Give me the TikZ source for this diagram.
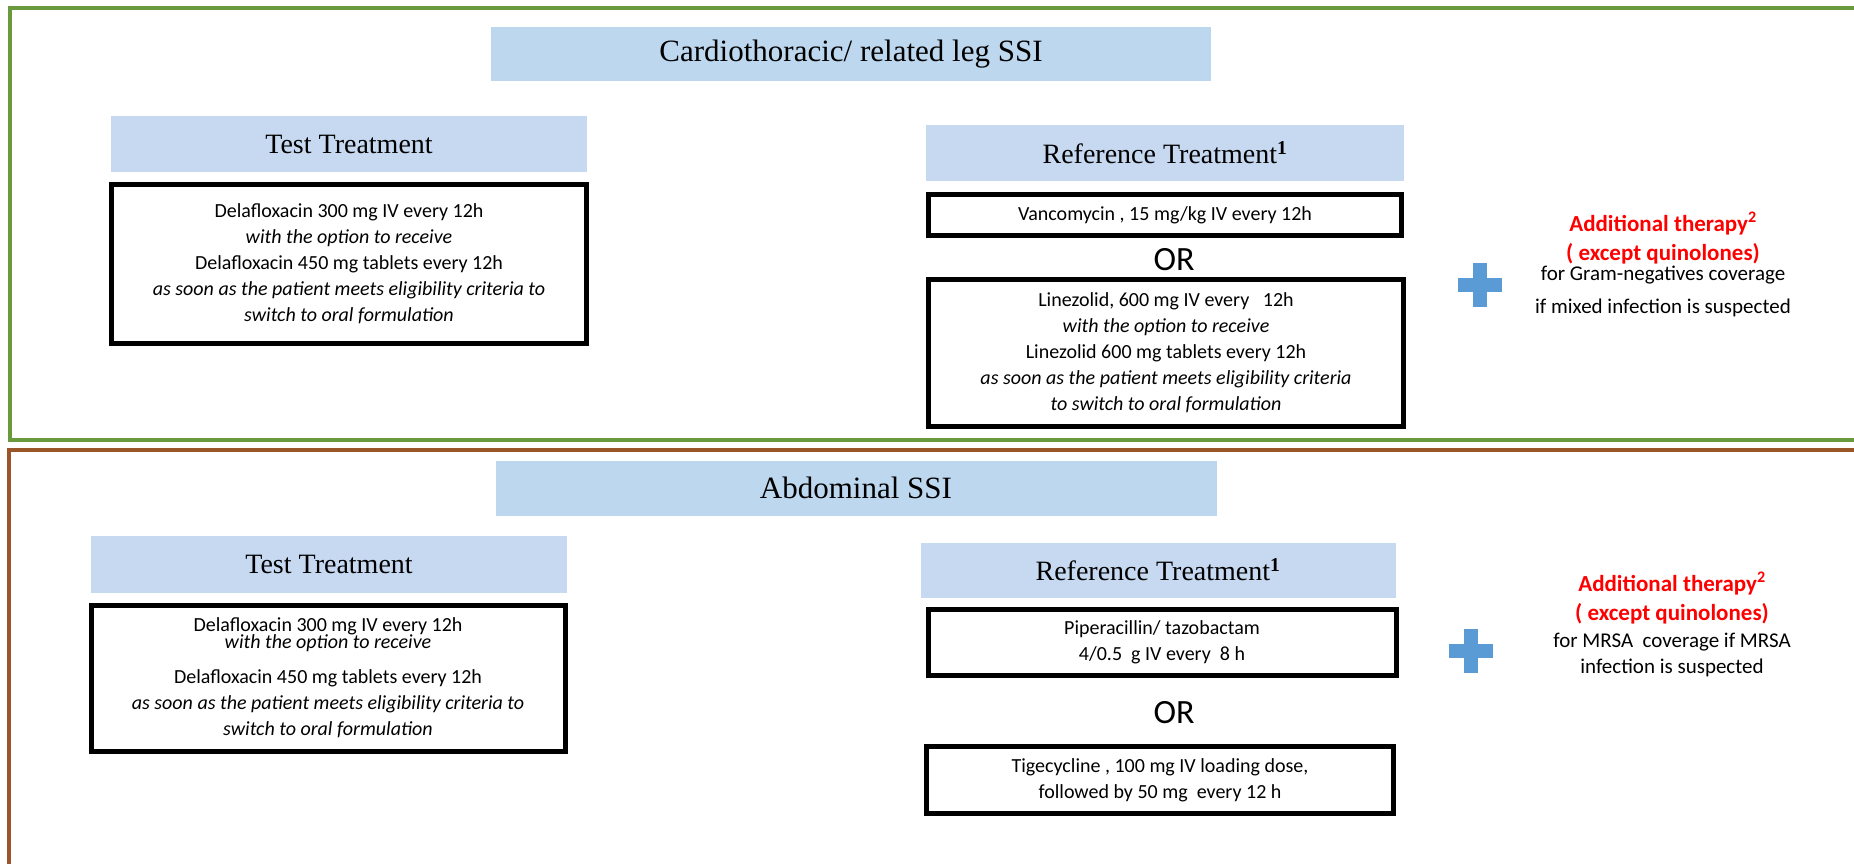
\documentclass[tikz,border=0pt]{standalone}
\usepackage{fontspec}
\setmainfont{Carlito}
\newfontfamily\headfont{Liberation Serif}

\definecolor{framegreen}{HTML}{6B9A3E}
\definecolor{framebrown}{HTML}{9A5529}
\definecolor{headblue}{HTML}{C6D9F1}
\definecolor{titleblue}{HTML}{BDD7EE}
\definecolor{plusblue}{HTML}{5B9BD5}
\definecolor{addred}{HTML}{FF0000}

\tikzset{
    titlebox/.style = {fill=titleblue, minimum width=720pt, minimum height=54pt, font=\headfont\fontsize{31}{34}\selectfont},
    headbox/.style = {fill=headblue, minimum width=476pt, minimum height=56pt, font=\headfont\fontsize{28}{32}\selectfont},
    drugbox/.style = {draw, line width=5pt, align=center, font=\fontsize{20}{26}\selectfont},
    ortext/.style = {font=\fontsize{34}{40}\selectfont},
    addred/.style = {text=addred, align=center, font=\bfseries\fontsize{23}{29}\selectfont},
    addblack/.style = {align=center, font=\fontsize{21}{33}\selectfont},
}

\begin{document}
\begin{tikzpicture}[x=1pt, y=-1pt]
    \useasboundingbox (0, 0) rectangle (1854, 863);
    \clip (0, 0) rectangle (1854, 863);

    % frames of the two sections
    \draw[framegreen, line width=4pt] (10, 8) rectangle (1880, 440);
    \draw[framebrown, line width=4pt] (9, 900) |- (1880, 450);

    % cardiothoracic section
    \node[titlebox] (titleA) at (851, 54) {Cardiothoracic/ related leg SSI};

    \node[headbox] (testheadA) at (349, 144) {Test Treatment};
    \node[drugbox, minimum width=475pt, minimum height=159pt] (testA) at (349, 264) {Delafloxacin  300 mg IV every 12h\\
        \textit{with the  option to receive}\\
        Delafloxacin  450 mg  tablets  every 12h\\
        \textit{as soon as the patient meets eligibility criteria to}\\
        \textit{switch to oral formulation}};

    \node[headbox, minimum width=478pt] (refheadA) at (1165, 153) {Reference Treatment\textsuperscript{\textbf{1}}};
    \node[drugbox, minimum width=473pt, minimum height=41pt] (vanco) at (1165, 215) {Vancomycin , 15 mg/kg IV every 12h};
    \node[ortext] (orA) at (1174, 260) {OR};
    \node[drugbox, minimum width=475pt, minimum height=147pt] (linez) at (1166, 353) {Linezolid, 600 mg IV every \ \ 12h\\
        \textit{with the option to receive}\\
        Linezolid  600 mg tablets every 12h\\
        \textit{as soon as the patient meets eligibility criteria}\\
        \textit{to switch to oral formulation}};

    \coordinate (plusA) at (1480, 285);
    \fill[plusblue] ([shift={(-22, -7)}]plusA) rectangle ([shift={(22, 7)}]plusA);
    \fill[plusblue] ([shift={(-7, -22)}]plusA) rectangle ([shift={(7, 22)}]plusA);

    \node[addred] (addredA) at (1663, 238) {Additional therapy\textsuperscript{2}\\( except  quinolones)};
    \node[addblack] (addblackA) at (1663, 291) {for Gram-negatives  coverage\\if mixed infection  is suspected};

    % abdominal section
    \node[titlebox, minimum width=721pt, minimum height=55pt] (titleB) at (856, 488) {Abdominal SSI};

    \node[headbox, minimum height=57pt] (testheadB) at (329, 564) {Test Treatment};
    \node[drugbox, minimum width=474pt, minimum height=146pt] (testB) at (328, 678) {Delafloxacin  300 mg IV every 12h\\[-9pt]
        \textit{with the  option  to  receive}\\[9pt]
        Delafloxacin  450 mg  tablets  every 12h\\
        \textit{as soon as the patient meets eligibility criteria to}\\
        \textit{switch to oral formulation}};

    \node[headbox, minimum width=475pt, minimum height=55pt] (refheadB) at (1158, 570) {Reference Treatment\textsuperscript{\textbf{1}}};
    \node[drugbox, minimum width=468pt, minimum height=66pt] (pipera) at (1162, 642) {Piperacillin/ tazobactam\\4/0.5 \ g IV every \ 8 h};
    \node[ortext] (orB) at (1174, 713) {OR};
    \node[drugbox, minimum width=467pt, minimum height=67pt] (tigec) at (1160, 780) {Tigecycline , 100 mg IV loading dose,\\followed by 50 mg \ every 12 h};

    \coordinate (plusB) at (1471, 651);
    \fill[plusblue] ([shift={(-22, -7)}]plusB) rectangle ([shift={(22, 7)}]plusB);
    \fill[plusblue] ([shift={(-7, -22)}]plusB) rectangle ([shift={(7, 22)}]plusB);

    \node[addred] (addredB) at (1672, 598) {Additional therapy\textsuperscript{2}\\( except  quinolones)};
    \node[addblack, font=\fontsize{21}{26}\selectfont] (addblackB) at (1672, 655) {for MRSA \ coverage if MRSA\\infection  is suspected};
\end{tikzpicture}
\end{document}
